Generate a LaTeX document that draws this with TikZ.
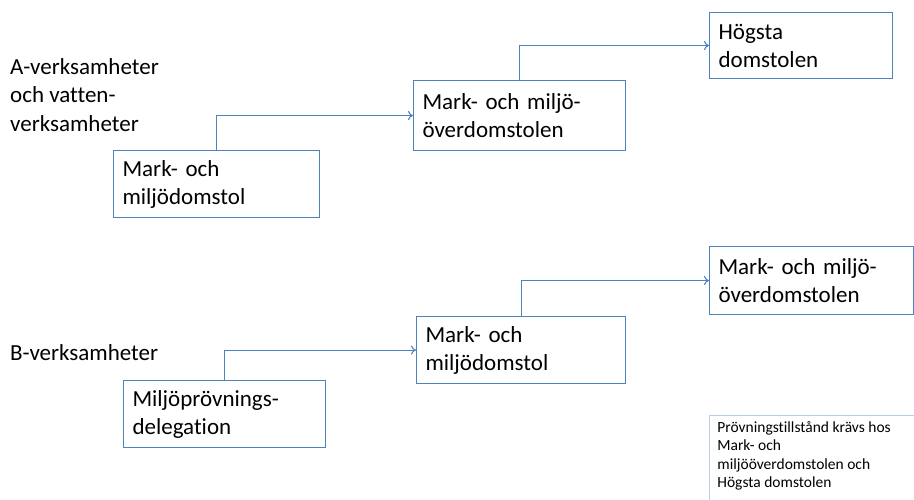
\documentclass[tikz,border=0pt]{standalone}
\usepackage{fontspec}
\setmainfont{Carlito}[Ligatures=NoCommon]
\usetikzlibrary{arrows.meta}
\definecolor{boxblue}{HTML}{4F81BD}
\definecolor{noteblue}{HTML}{B9CDE5}
\tikzset{
  box/.style={draw=boxblue, line width=1.1pt, anchor=north west, align=left,
    inner xsep=9pt, inner ysep=0pt, font=\fontsize{23}{28}\selectfont, text=black},
  lbl/.style={anchor=north west, align=left, inner sep=0pt, font=\fontsize{23}{28.5}\selectfont},
  note/.style={draw=noteblue, line width=0.8pt, anchor=north west,
    inner xsep=8pt, inner ysep=6pt, font=\fontsize{15.5}{18.5}\selectfont},
  arr/.style={draw=boxblue, line width=1.1pt, -{To[length=5pt,width=9pt]}}
}
\begin{document}
\begin{tikzpicture}[x=1pt,y=-1pt]
\useasboundingbox (0,0) rectangle (914,500);
% A chain
\node[box, text width=188pt, minimum height=67pt] (a1) at (113,150) {Mark- och\\miljödomstol};
\node[box, text width=194pt, minimum height=70pt] (a2) at (413,80) {Mark- och miljö-\\överdomstolen};
\node[box, text width=165pt, minimum height=66pt] (a3) at (709,12) {Högsta\\domstolen};
\node[lbl] (la) at (10,58) {A-verksamheter\\och vatten-\\verksamheter};
\draw[arr] (a1.north) |- (a2.west);
\draw[arr] (a2.north) |- (a3.west);
% B chain
\node[box, text width=184pt, minimum height=67pt] (b1) at (123,380) {Miljöprövnings-\\delegation};
\node[box, text width=191pt, minimum height=67pt] (b2) at (416,316) {Mark- och\\miljödomstol};
\node[box, text width=186pt, minimum height=68pt] (b3) at (709,246) {Mark- och miljö-\\överdomstolen};
\node[lbl] (lb) at (10,344) {B-verksamheter};
\draw[arr] (b1.north) |- (b2.west);
\draw[arr] (b2.north) |- (b3.west);
% note
\node[note] (n) at (709,415) {\parbox[t][95pt][t]{200pt}{\raggedright Prövningstillstånd krävs hos\\Mark- och\\miljööverdomstolen och\\Högsta domstolen}};
\end{tikzpicture}
\end{document}
